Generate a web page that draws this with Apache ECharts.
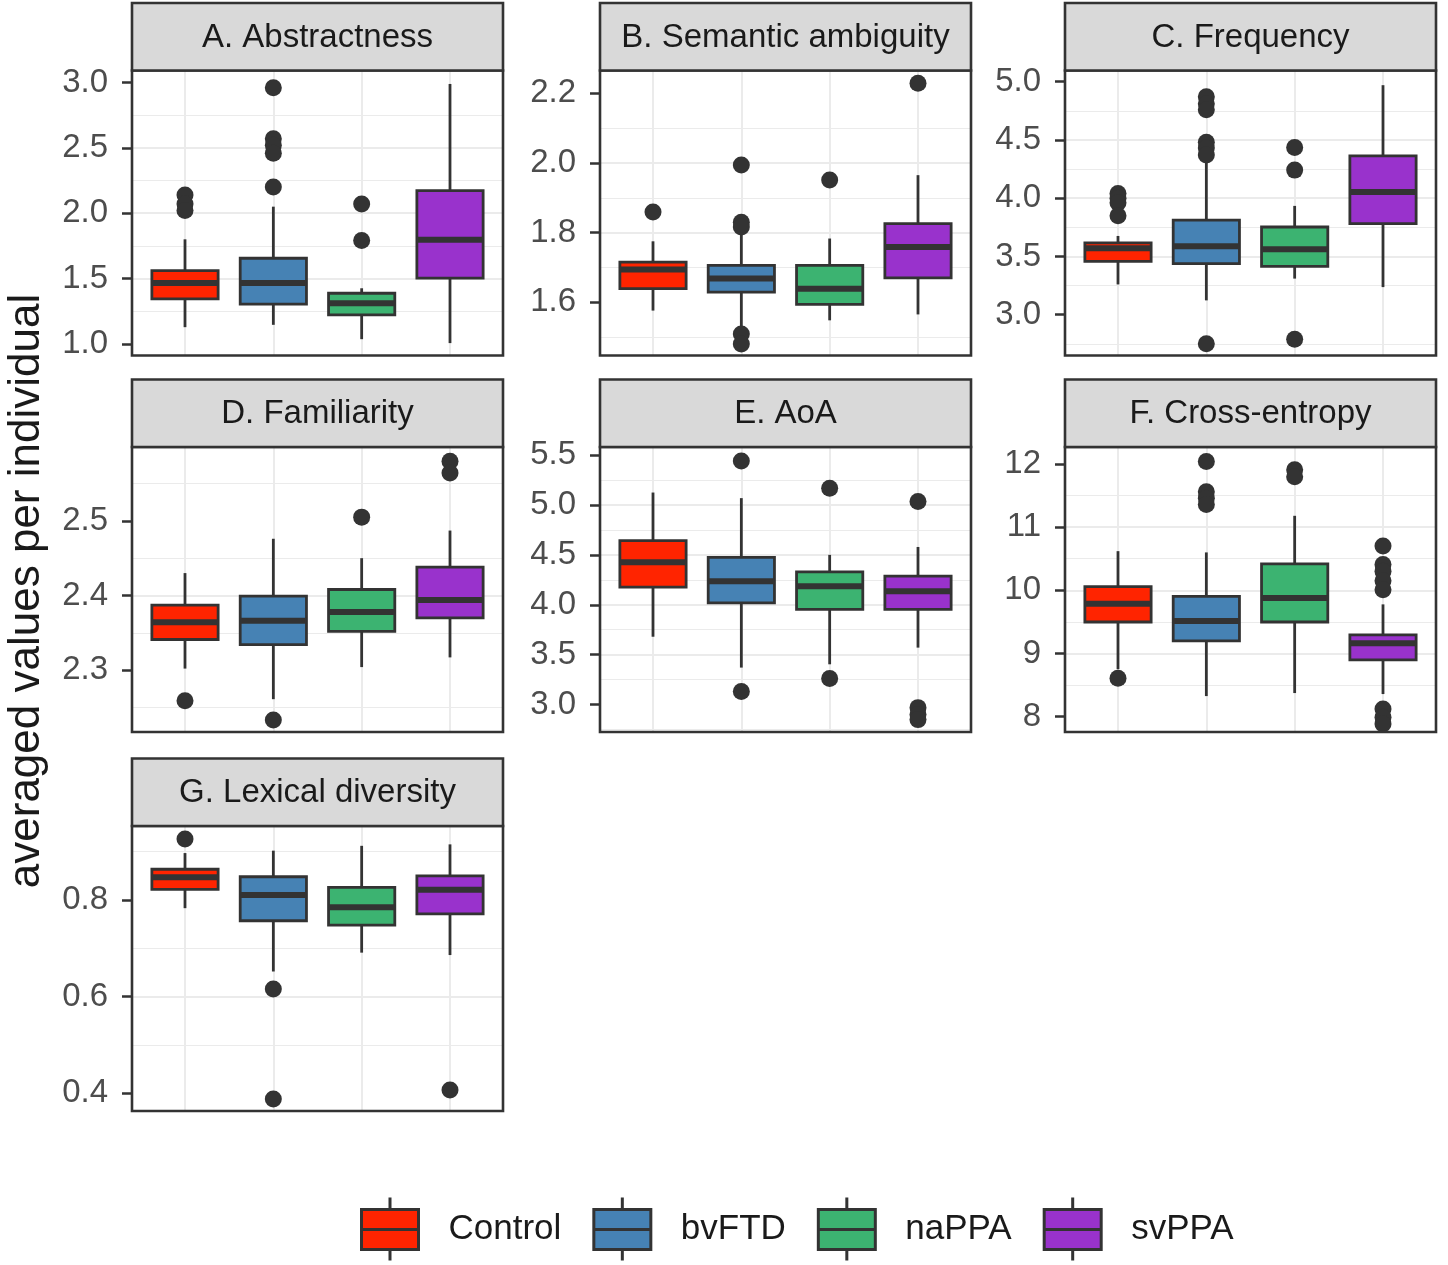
<!DOCTYPE html>
<html>
<head>
<meta charset="utf-8">
<script src="https://cdn.jsdelivr.net/npm/echarts@6/dist/echarts.min.js"></script>
<style>
html, body { margin: 0; padding: 0; background: #ffffff; }
#chart { width: 1448px; height: 1265px; }
</style>
</head>
<body>
<div id="chart"></div>
<script>
// ---------------- DATA ----------------
const groups = ['Control', 'bvFTD', 'naPPA', 'svPPA'];
const groupColors = ['#FF2400', '#4682B4', '#3CB371', '#9932CC'];
const panelTitles = ['A. Abstractness', 'B. Semantic ambiguity', 'C. Frequency',
  'D. Familiarity', 'E. AoA', 'F. Cross-entropy', 'G. Lexical diversity'];
const yAxisTitle = 'averaged values per individual';

// boxes: one [min, Q1, median, Q3, max] per group (Control, bvFTD, naPPA, svPPA)
// outliers: [group position (1..4), value]
const abstractnessBoxes = [[1.127, 1.344, 1.465, 1.56, 1.80], [1.145, 1.303, 1.465, 1.655, 2.05], [1.035, 1.221, 1.311, 1.387, 1.425], [1.005, 1.502, 1.796, 2.173, 2.99]];
const abstractnessOutliers = [[1, 2.14], [1, 2.07], [1, 2.02], [2, 2.96], [2, 2.57], [2, 2.52], [2, 2.46], [2, 2.20], [3, 2.07], [3, 1.79]];
const abstractnessTicks = [1.0, 1.5, 2.0, 2.5, 3.0];

const ambiguityBoxes = [[1.576, 1.639, 1.694, 1.715, 1.775], [1.528, 1.629, 1.668, 1.706, 1.80], [1.548, 1.594, 1.639, 1.706, 1.783], [1.565, 1.670, 1.759, 1.826, 1.965]];
const ambiguityOutliers = [[1, 1.859], [2, 1.994], [2, 1.830], [2, 1.816], [2, 1.509], [2, 1.48], [3, 1.951], [4, 2.229]];
const ambiguityTicks = [1.6, 1.8, 2.0, 2.2];

const frequencyBoxes = [[3.26, 3.458, 3.57, 3.616, 3.676], [3.123, 3.438, 3.587, 3.811, 4.327], [3.31, 3.415, 3.562, 3.753, 3.934], [3.237, 3.782, 4.054, 4.364, 4.97]];
const frequencyOutliers = [[1, 4.04], [1, 4.00], [1, 3.96], [1, 3.85], [2, 4.87], [2, 4.81], [2, 4.76], [2, 4.48], [2, 4.43], [2, 4.37], [2, 2.75], [3, 4.436], [3, 4.241], [3, 2.79]];
const frequencyTicks = [3.0, 3.5, 4.0, 4.5, 5.0];

const familiarityBoxes = [[2.302, 2.341, 2.364, 2.387, 2.430], [2.261, 2.334, 2.366, 2.399, 2.476], [2.304, 2.352, 2.378, 2.408, 2.450], [2.317, 2.370, 2.394, 2.438, 2.487]];
const familiarityOutliers = [[1, 2.259], [2, 2.233], [3, 2.505], [4, 2.580], [4, 2.564]];
const familiarityTicks = [2.3, 2.4, 2.5];

const aoaBoxes = [[3.68, 4.176, 4.425, 4.642, 5.124], [3.371, 4.02, 4.236, 4.475, 5.068], [3.404, 3.953, 4.186, 4.329, 4.5], [3.571, 3.953, 4.136, 4.286, 4.579]];
const aoaOutliers = [[2, 5.44], [2, 3.132], [3, 5.167], [3, 3.262], [4, 5.034], [4, 2.97], [4, 2.90], [4, 2.85]];
const aoaTicks = [3.0, 3.5, 4.0, 4.5, 5.0, 5.5];

const entropyBoxes = [[8.75, 9.498, 9.788, 10.057, 10.62], [8.324, 9.198, 9.513, 9.904, 10.6], [8.372, 9.498, 9.877, 10.42, 11.18], [8.356, 8.898, 9.16, 9.293, 9.777]];
const entropyOutliers = [[1, 8.608], [2, 12.04], [2, 11.56], [2, 11.46], [2, 11.36], [3, 11.91], [3, 11.80], [4, 10.70], [4, 10.41], [4, 10.30], [4, 10.15], [4, 10.01], [4, 8.12], [4, 7.99], [4, 7.88]];
const entropyTicks = [8, 9, 10, 11, 12];

const diversityBoxes = [[0.783, 0.822, 0.847, 0.8635, 0.897], [0.652, 0.757, 0.810, 0.848, 0.902], [0.691, 0.748, 0.785, 0.826, 0.912], [0.686, 0.771, 0.821, 0.850, 0.915]];
const diversityOutliers = [[1, 0.926], [2, 0.616], [2, 0.388], [4, 0.407]];
const diversityTicks = [0.4, 0.6, 0.8];

// ---------------- PANEL SCALES / LAYOUT ----------------
const panels = [
  { boxes: abstractnessBoxes, outliers: abstractnessOutliers, ticks: abstractnessTicks, min: 0.91, max: 3.093, interval: 0.5, dec: 1, row: 0, col: 0 },
  { boxes: ambiguityBoxes, outliers: ambiguityOutliers, ticks: ambiguityTicks, min: 1.447, max: 2.2656, interval: 0.2, dec: 1, row: 0, col: 1 },
  { boxes: frequencyBoxes, outliers: frequencyOutliers, ticks: frequencyTicks, min: 2.65, max: 5.096, interval: 0.5, dec: 1, row: 0, col: 2 },
  { boxes: familiarityBoxes, outliers: familiarityOutliers, ticks: familiarityTicks, min: 2.217, max: 2.599, interval: 0.1, dec: 1, row: 1, col: 0 },
  { boxes: aoaBoxes, outliers: aoaOutliers, ticks: aoaTicks, min: 2.726, max: 5.58, interval: 0.5, dec: 1, row: 1, col: 1 },
  { boxes: entropyBoxes, outliers: entropyOutliers, ticks: entropyTicks, min: 7.755, max: 12.27, interval: 1, dec: 0, row: 1, col: 2 },
  { boxes: diversityBoxes, outliers: diversityOutliers, ticks: diversityTicks, min: 0.3634, max: 0.953, interval: 0.2, dec: 1, row: 2, col: 0 }
];

const FONT = "'Liberation Sans', Arial, Helvetica, sans-serif";
const colLeft = [132, 600, 1065];
const plotWidth = 371;
const stripTop = [3, 379.5, 758.5];
const stripHeight = 67.5;
const plotTop = [70.5, 447, 826];
const plotHeight = 285;
const DARK = '#333333';
const GRIDLINE = '#EBEBEB';
const LW = 2.8;

const grids = [], xAxes = [], yAxes = [], series = [], graphics = [];

panels.forEach((p, i) => {
  const left = colLeft[p.col];
  grids.push({
    left: left, top: plotTop[p.row], width: plotWidth, height: plotHeight,
    show: true, z: 3, backgroundColor: 'transparent',
    borderColor: DARK, borderWidth: 2.6, containLabel: false
  });
  xAxes.push({
    type: 'value', gridIndex: i, min: 0.4, max: 4.6, minInterval: 1, maxInterval: 1,
    axisLabel: { show: false }, axisTick: { show: false }, axisLine: { show: false },
    splitLine: { show: true, showMinLine: false, showMaxLine: false, lineStyle: { color: GRIDLINE, width: 2 } }
  });
  yAxes.push({
    type: 'value', gridIndex: i, min: p.min, max: p.max,
    minInterval: p.interval, maxInterval: p.interval,
    axisLine: { show: false },
    axisTick: { show: true, length: 10, customValues: p.ticks, lineStyle: { color: DARK, width: 2.5 } },
    axisLabel: {
      customValues: p.ticks, margin: 24, fontSize: 33, color: '#4D4D4D', fontFamily: FONT,
      formatter: (v) => Number(v).toFixed(p.dec)
    },
    splitLine: { show: true, showMinLine: false, showMaxLine: false, lineStyle: { color: GRIDLINE, width: 2 } },
    minorTick: { show: false, splitNumber: 2 },
    minorSplitLine: { show: true, lineStyle: { color: GRIDLINE, width: 1 } }
  });

  series.push({
    type: 'custom', name: 'box' + i, xAxisIndex: i, yAxisIndex: i, z: 2,
    data: p.boxes.map((b, j) => [j + 1].concat(b)),
    encode: { x: 0, y: [1, 2, 3, 4, 5] },
    renderItem: function (params, api) {
      const x = api.value(0);
      const pMin = api.coord([x, api.value(1)]);
      const pQ1 = api.coord([x, api.value(2)]);
      const pMed = api.coord([x, api.value(3)]);
      const pQ3 = api.coord([x, api.value(4)]);
      const pMax = api.coord([x, api.value(5)]);
      const w = api.size([0.75, 0])[0];
      const color = groupColors[params.dataIndex];
      return {
        type: 'group',
        children: [
          { type: 'line', shape: { x1: pMax[0], y1: pMax[1], x2: pQ3[0], y2: pQ3[1] }, style: { stroke: DARK, lineWidth: LW } },
          { type: 'line', shape: { x1: pQ1[0], y1: pQ1[1], x2: pMin[0], y2: pMin[1] }, style: { stroke: DARK, lineWidth: LW } },
          { type: 'rect', shape: { x: pQ3[0] - w / 2, y: pQ3[1], width: w, height: pQ1[1] - pQ3[1] }, style: { fill: color, stroke: DARK, lineWidth: LW } },
          { type: 'line', shape: { x1: pMed[0] - w / 2, y1: pMed[1], x2: pMed[0] + w / 2, y2: pMed[1] }, style: { stroke: DARK, lineWidth: 6 } }
        ]
      };
    }
  });
  series.push({
    type: 'scatter', name: 'outliers' + i, xAxisIndex: i, yAxisIndex: i, z: 2,
    symbol: 'circle', symbolSize: 17, itemStyle: { color: DARK, opacity: 1 },
    data: p.outliers, silent: true
  });

  // facet strip
  graphics.push({
    type: 'rect', z: 10,
    shape: { x: left, y: stripTop[p.row], width: plotWidth, height: stripHeight },
    style: { fill: '#D9D9D9', stroke: DARK, lineWidth: 2.6 }
  });
  graphics.push({
    type: 'text', z: 11,
    x: left + plotWidth / 2, y: stripTop[p.row] + stripHeight / 2 + 1,
    style: { text: panelTitles[i], font: '33px ' + FONT, fill: '#1A1A1A', align: 'center', verticalAlign: 'middle', textAlign: 'center', textVerticalAlign: 'middle' }
  });
});

// y-axis title
graphics.push({
  type: 'text', z: 11, x: 27, y: 591, rotation: Math.PI / 2,
  style: { text: yAxisTitle, font: '44px ' + FONT, fill: '#1A1A1A', align: 'center', verticalAlign: 'middle', textAlign: 'center', textVerticalAlign: 'middle' }
});

// legend entries (series carrying group names and colours)
groups.forEach((g, k) => {
  series.push({ type: 'scatter', name: g, xAxisIndex: 0, yAxisIndex: 0, data: [], itemStyle: { color: groupColors[k], opacity: 1 } });
});

const chart = echarts.init(document.getElementById('chart'), null, { renderer: 'canvas' });
chart.setOption({
  backgroundColor: '#ffffff',
  animation: false,
  grid: grids,
  xAxis: xAxes,
  yAxis: yAxes,
  series: series,
  graphic: graphics,
  legend: {
    data: groups, left: 360, top: 1196, orient: 'horizontal', padding: 0,
    itemWidth: 57, itemHeight: 63, itemGap: 31, selectedMode: false,
    icon: 'path://M0,12 L57,12 L57,52 L0,52 Z M0,32 L57,32 M28.5,0 L28.5,12 M28.5,52 L28.5,63',
    itemStyle: { borderColor: DARK, borderWidth: 3, opacity: 1 },
    formatter: (n) => '{gap| }' + n,
    textStyle: { fontSize: 35, color: '#1A1A1A', fontFamily: FONT, rich: { gap: { width: 25, fontSize: 35 } } }
  }
});
</script>
</body>
</html>
